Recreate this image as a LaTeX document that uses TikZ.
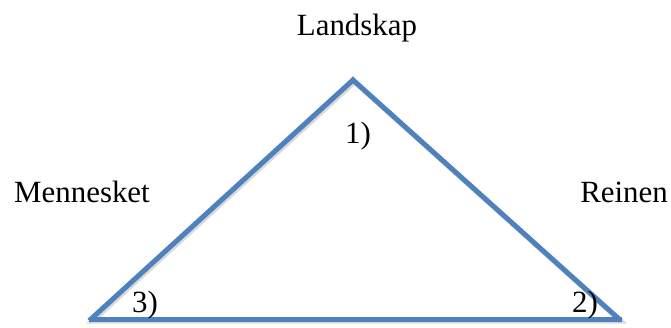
\documentclass[tikz,border=0pt]{standalone}
\usepackage{fontspec}
\setmainfont{Liberation Serif}
\usepackage{tikz}
\usetikzlibrary{calc, positioning}
\definecolor{sideblue}{RGB}{79,129,189}

\begin{document}
\begin{tikzpicture}[x=1bp, y=1bp]
    \tikzset{
        side/.style={line width=5bp, draw=sideblue, line join=miter, line cap=rect},
        side shadow/.style={line width=5bp, draw=black!25, line join=miter, line cap=rect},
        label/.style={anchor=base, inner sep=0pt, font=\fontsize{31}{36}\selectfont}
    }
    \useasboundingbox (0,0) rectangle (671,327);

    \coordinate (T) at (353, 247);
    \coordinate (L) at (91, 8);
    \coordinate (R) at (619, 8);

    % shadow
    \draw[side shadow, opacity=0.6] ($(L)+(1.5,-2)$) -- ($(T)+(1.5,-2)$) -- ($(R)+(1.5,-2)$) -- cycle;

    \draw[side] (L) -- (T);
    \draw[side] (T) -- (R);
    \draw[side] (R) -- (L);

    \node[label] (landskap) at (357, 292) {Landskap};
    \node[label] (mennesket) at (82, 125) {Mennesket};
    \node[label] (reinen) at (624, 125) {Reinen};

    \node[label] (one) at (358, 184) {1)};
    \node[label] (two) at (585, 15) {2)};
    \node[label] (three) at (145, 15) {3)};

\end{tikzpicture}
\end{document}
